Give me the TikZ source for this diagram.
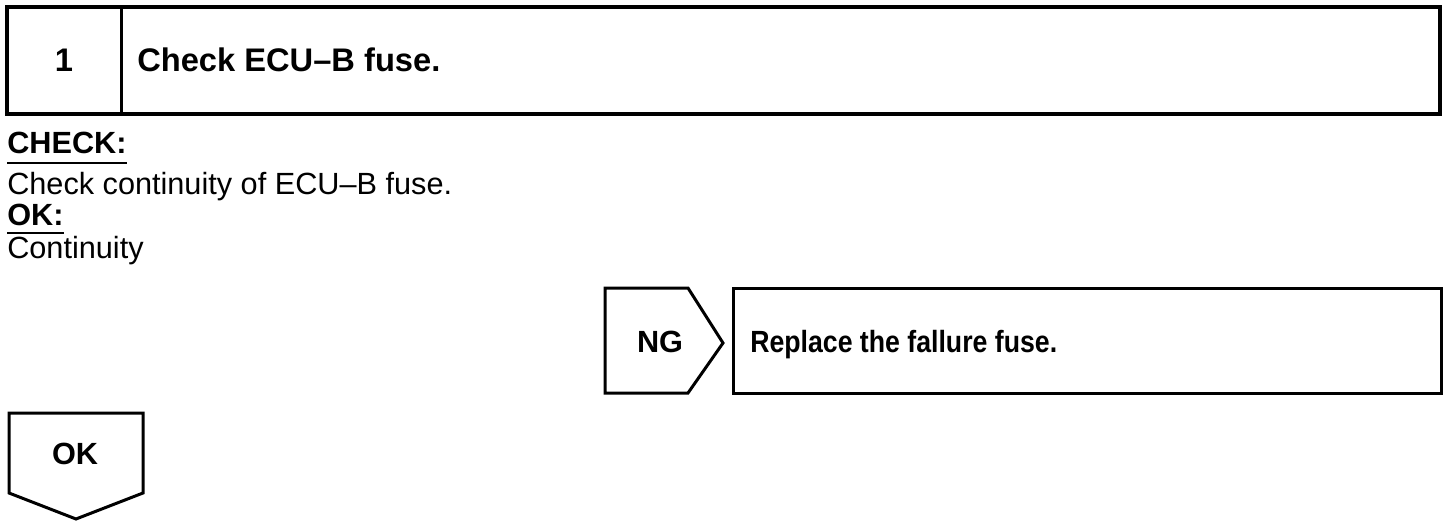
\documentclass[tikz,border=0pt]{standalone}
\usepackage{fontspec}
\setmainfont{Liberation Sans}
\newfontfamily\narrowfont[FakeStretch=0.87]{Liberation Sans}
\begin{document}
\begin{tikzpicture}[x=0.75pt,y=-0.75pt,
  frame/.style={draw=black,line width=3pt*0.75},
  body/.style={inner sep=0pt,font=\fontsize{23}{27}\selectfont},
  bodyb/.style={inner sep=0pt,font=\fontsize{23}{27}\selectfont\bfseries},
  title/.style={inner sep=0pt,font=\fontsize{24.5}{28}\selectfont\bfseries},
  label/.style={inner sep=0pt,font=\fontsize{23}{27}\selectfont\bfseries},
  uline/.style={draw=black,line width=2pt*0.75}]
\useasboundingbox (0,0) rectangle (1456,528);
% top step box
\draw[frame,line width=4pt*0.75] (7,7) rectangle (1440,114);
\draw[frame] (121,7) -- (121,114);
\node[title,anchor=base] (num) at (64,72) {1};
\node[title,anchor=base west] (ttl) at (137,72) {Check ECU--B fuse.};
% check text
\node[bodyb,anchor=base west] (chk) at (7,153) {CHECK:};
\draw[uline] (chk.south west |- 0,163) -- (chk.south east |- 0,163);
\node[body,anchor=base west] (chkt) at (7,194) {Check continuity of ECU--B fuse.};
\node[bodyb,anchor=base west] (ok) at (7,225) {OK:};
\draw[uline] (ok.south west |- 0,233) -- (ok.south east |- 0,233);
\node[body,anchor=base west] (okt) at (7,258) {Continuity};
% NG arrow and box
\draw[frame,line join=miter] (605,288) -- (688,288) -- (723,343) -- (688,393) -- (605,393) -- cycle;
\node[label,anchor=base] (ng) at (660,352) {NG};
\draw[frame] (733,288) rectangle (1441,393);
\node[label,anchor=base west,font=\narrowfont\fontsize{23}{27}\selectfont\bfseries] (rep) at (750,352) {Replace the fallure fuse.};
% OK arrow
\draw[frame,line join=miter] (9,413) -- (143,413) -- (143,493) -- (76,519) -- (9,493) -- cycle;
\node[label,anchor=base] (okb) at (75,464) {OK};
\end{tikzpicture}
\end{document}
